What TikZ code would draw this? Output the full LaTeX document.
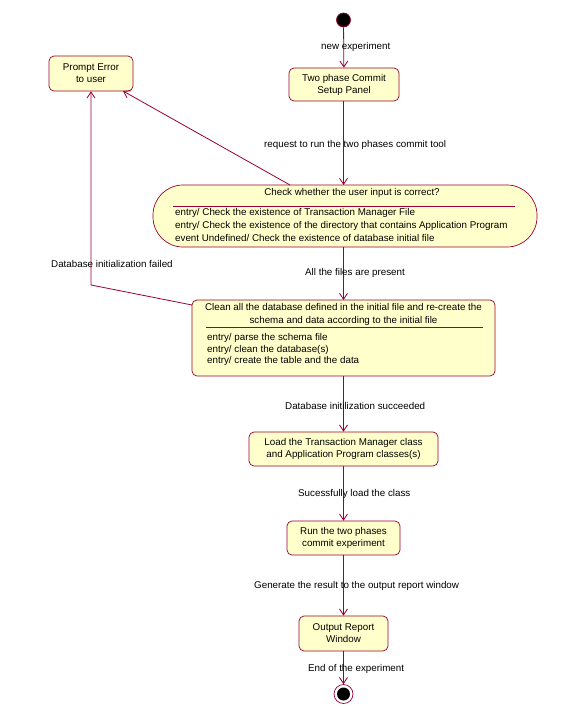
\documentclass[tikz,border=0pt]{standalone}
\usepackage{fontspec}
\setmainfont{Liberation Sans}
\usetikzlibrary{arrows.meta,calc}
\definecolor{umlred}{HTML}{990033}
\definecolor{umlfill}{HTML}{FFFFCC}
\tikzset{
  x=1pt,y=-1pt,
  st/.style={draw=umlred,fill=umlfill,rounded corners=5pt,line width=0.7pt,align=center,inner sep=0pt,font=\fontsize{9.8}{12}\selectfont},
  tr/.style={draw=umlred,line width=0.8pt,-{Straight Barb[length=6pt,width=8pt]}},
  lbl/.style={font=\fontsize{9.8}{11}\selectfont,inner sep=0pt},
  txt/.style={font=\fontsize{9.8}{13}\selectfont,inner sep=0pt,align=left,anchor=north west}
}
\begin{document}
\begin{tikzpicture}
\useasboundingbox (0,0) rectangle (568,723);
% start
\node[circle,fill=black,draw=umlred,line width=0.7pt,minimum size=14pt,inner sep=0pt] (start) at (343.5,20) {};
% states
\node[st,minimum width=110pt,minimum height=33pt] (setup) at (344,84.5) {Two phase Commit\\Setup Panel};
\node[st,minimum width=84pt,minimum height=35pt] (prompt) at (91,73.5) {Prompt Error\\to user};
\node[st,rounded corners=30pt,minimum width=384pt,minimum height=62pt] (check) at (345,216) {};
\node[lbl] (checkt) at (352,193) {Check whether the user input is correct?};
\draw[umlred,line width=0.7pt] (173,206) -- (515,206);
\node[txt] (checkb) at (175,208.5) {entry/ Check the existence of Transaction Manager File\\entry/ Check the existence of the directory that contains Application Program\\event Undefined/ Check the existence of database initial file};
\node[st,minimum width=303pt,minimum height=76pt] (clean) at (343.5,338) {};
\node[lbl,align=center,font=\fontsize{9.8}{13}\selectfont] (cleant) at (343.5,314.5) {Clean all the database defined in the initial file and re-create the\\schema and data according to the initial file};
\draw[umlred,line width=0.7pt] (206,327) -- (483,327);
\node[txt,font=\fontsize{9.8}{11.7}\selectfont] (cleanb) at (207,333) {entry/ parse the schema file\\entry/ clean the database(s)\\entry/ create the table and the data};
\node[st,minimum width=189pt,minimum height=34pt] (load) at (343.5,449) {Load the Transaction Manager class\\and Application Program classes(s)};
\node[st,minimum width=113pt,minimum height=34pt] (run) at (343.5,538) {Run the two phases\\commit experiment};
\node[st,minimum width=89pt,minimum height=35pt] (out) at (343.5,633.5) {Output Report\\Window};
% end
\node[circle,draw=umlred,fill=white,line width=0.7pt,minimum size=19pt,inner sep=0pt] (end) at (343.5,694) {};
\fill[black] (end.center) circle (6.5pt);
% connector anchor points
\coordinate (s1) at (343.5,101);
\coordinate (ck1) at (343.5,185);
\coordinate (ck2) at (343.5,247);
\coordinate (cn1) at (343.5,300);
% transitions
\draw[tr] (start) -- (setup);
\node[lbl,anchor=west] (l1) at (321,47) {new experiment};
\draw[tr] (s1) -- (ck1);
\node[lbl,anchor=west] (l2) at (264,145) {request to run the two phases commit tool};
\coordinate (c1) at (290,185);
\coordinate (p1) at (123,91);
\draw[tr] (c1) -- (p1);
\draw[tr] (ck2) -- (cn1);
\node[lbl,anchor=west] (l3) at (305,273) {All the files are present};
\coordinate (cl) at (192,305);
\coordinate (bend) at (91,285);
\draw[tr] (cl) -- (bend) -- (prompt.south);
\node[lbl,anchor=west] (l4) at (51,264) {Database initialization failed};
\draw[tr] (clean) -- (load);
\node[lbl,anchor=west] (l5) at (285,406) {Database initilization succeeded};
\draw[tr] (load) -- (run);
\node[lbl,anchor=west] (l6) at (298,494) {Sucessfully load the class};
\draw[tr] (run) -- (out);
\node[lbl,anchor=west] (l7) at (254,586) {Generate the result to the output report window};
\draw[tr] (out) -- (end);
\node[lbl,anchor=west] (l8) at (308,669) {End of the experiment};
\end{tikzpicture}
\end{document}
